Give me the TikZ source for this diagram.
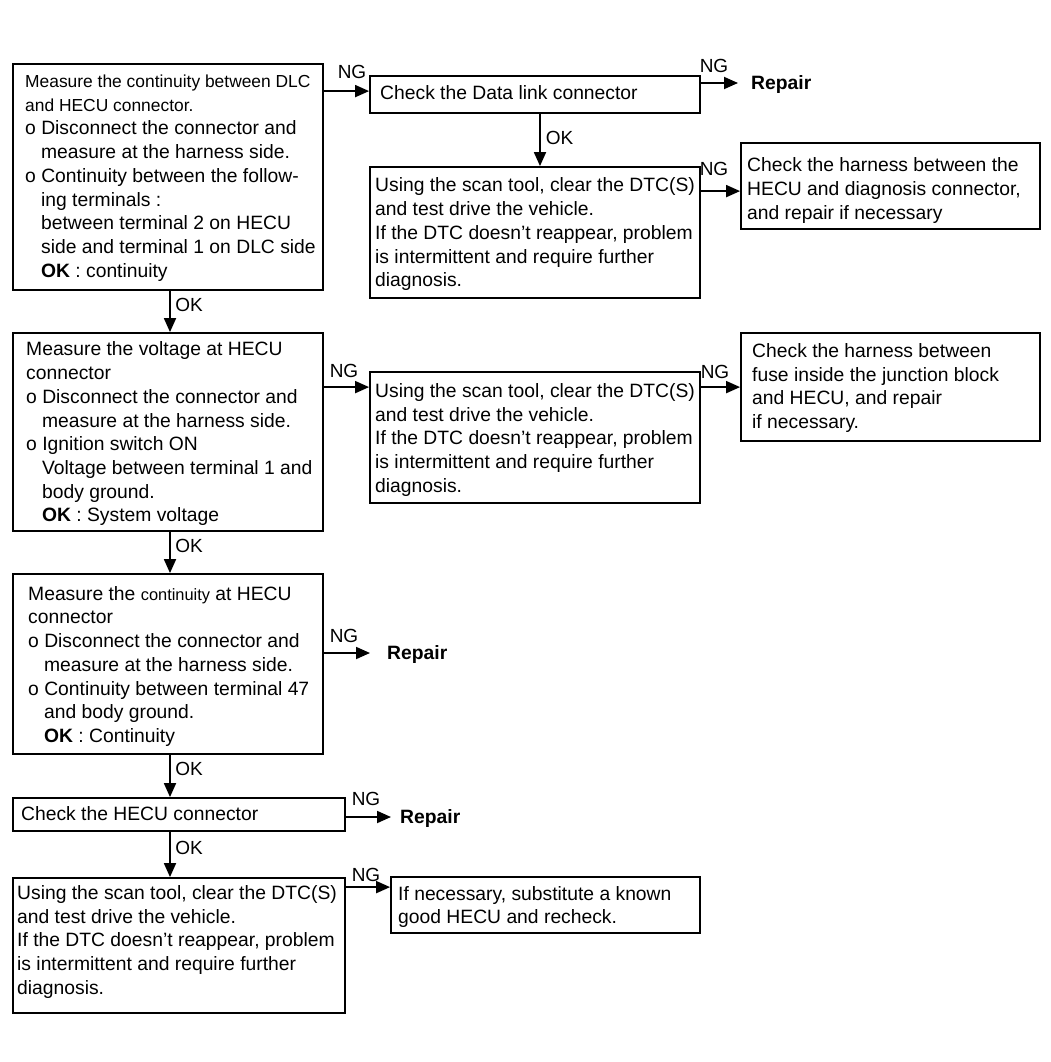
\documentclass[tikz,border=0pt]{standalone}
\usepackage{fontspec}
\setmainfont{Liberation Sans}
\usetikzlibrary{arrows.meta,calc}
\newcommand{\ind}{\hspace*{15.9pt}}
\newcommand{\stt}{\rule{0pt}{14pt}}
\newcommand{\smf}{\fontsize{17.4}{23.7}\selectfont}
\begin{document}
\begin{tikzpicture}[x=1pt,y=-1pt,
  box/.style={draw, line width=1.8pt, inner sep=0pt, rectangle},
  txt/.style={anchor=north west, inner sep=0pt, align=left, font=\fontsize{19.3}{23.7}\selectfont},
  lbl/.style={anchor=base, inner sep=0pt, font=\fontsize{19}{23.7}\selectfont},
  rep/.style={anchor=west, inner ysep=0pt, text height=13.8pt, text depth=0pt, font=\fontsize{19.3}{23.7}\selectfont\bfseries},
  arr/.style={line width=1.8pt, -{Triangle[length=14pt,width=12pt]}}
]
\useasboundingbox (0,0) rectangle (1050,1062);

% boxes
\node[box, minimum width=310pt, minimum height=226pt] (b1) at (168,177) {};
\node[box, minimum width=330pt, minimum height=37pt] (b2) at (535,94.5) {};
\node[box, minimum width=330pt, minimum height=131pt] (b3) at (535,232.5) {};
\node[box, minimum width=299pt, minimum height=86pt] (b4) at (890.5,186) {};
\node[box, minimum width=310pt, minimum height=198pt] (b5) at (168,432) {};
\node[box, minimum width=330pt, minimum height=131pt] (b6) at (535,437.5) {};
\node[box, minimum width=299pt, minimum height=108pt] (b7) at (890.5,387) {};
\node[box, minimum width=310pt, minimum height=180pt] (b8) at (168,664) {};
\node[box, minimum width=332pt, minimum height=33pt] (b9) at (179,814.5) {};
\node[box, minimum width=332pt, minimum height=135pt] (b10) at (179,945.5) {};
\node[box, minimum width=309pt, minimum height=56pt] (b11) at (545.5,905) {};

% texts
\node[txt] (t1) at (25,73.3) {\stt{\smf Measure the continuity between DLC}\\
{\smf and HECU connector.}\\
o Disconnect the connector and\\
\ind measure at the harness side.\\
o Continuity between the follow-\\
\ind ing terminals :\\
\ind between terminal 2 on HECU\\
\ind side and terminal 1 on DLC side\\
\ind \textbf{OK} : continuity};
\node[txt] (t2) at (380,85) {\stt Check the Data link connector};
\node[txt] (t3) at (375,177.7) {\stt Using the scan tool, clear the DTC(S)\\
and test drive the vehicle.\\
If the DTC doesn't reappear, problem\\
is intermittent and require further\\
diagnosis.};
\node[txt] (t4) at (747,157.7) {\stt Check the harness between the\\
HECU and diagnosis connector,\\
and repair if necessary};
\node[txt] (t5) at (26,341.7) {\stt Measure the voltage at HECU\\
connector\\
o Disconnect the connector and\\
\ind measure at the harness side.\\
o Ignition switch ON\\
\ind Voltage between terminal 1 and\\
\ind body ground.\\
\ind \textbf{OK} : System voltage};
\node[txt] (t6) at (375,383.3) {\stt Using the scan tool, clear the DTC(S)\\
and test drive the vehicle.\\
If the DTC doesn't reappear, problem\\
is intermittent and require further\\
diagnosis.};
\node[txt] (t7) at (752,343.3) {\stt Check the harness between\\
fuse inside the junction block\\
and HECU, and repair\\
if necessary.};
\node[txt] (t8) at (28,586) {\stt Measure the {\fontsize{16.4}{23.7}\selectfont continuity} at HECU\\
connector\\
o Disconnect the connector and\\
\ind measure at the harness side.\\
o Continuity between terminal 47\\
\ind and body ground.\\
\ind \textbf{OK} : Continuity};
\node[txt] (t9) at (21,806.7) {\stt Check the HECU connector};
\node[txt] (t10) at (17,885.3) {\stt Using the scan tool, clear the DTC(S)\\
and test drive the vehicle.\\
If the DTC doesn't reappear, problem\\
is intermittent and require further\\
diagnosis.};
\node[txt] (t11) at (398,886) {\stt If necessary, substitute a known\\
good HECU and recheck.};

% repair nodes
\node[rep, inner xsep=13pt] (r1) at (738,83) {Repair};
\node[rep, inner xsep=17pt] (r2) at (370,653) {Repair};
\node[rep, inner xsep=9pt] (r3) at (391,817) {Repair};

% connectors
\coordinate (p1) at ($(b2.north west)+(0,16)$);
\draw[arr] (b1.east |- p1) -- (p1);
\draw[arr] (b2.east |- r1.west) -- (r1.west);
\coordinate (p3) at ($(b2.south)+(5,0)$);
\draw[arr] (p3) -- (p3 |- b3.north);
\coordinate (p4) at ($(b3.north east)+(0,25)$);
\draw[arr] (p4) -- (p4 -| b4.west);
\coordinate (p5) at ($(b1.south)+(2,0)$);
\draw[arr] (p5) -- (p5 |- b5.north);
\coordinate (p6) at ($(b6.north west)+(0,16)$);
\draw[arr] (b5.east |- p6) -- (p6);
\coordinate (p7) at ($(b6.north east)+(0,16)$);
\draw[arr] (p7) -- (p7 -| b7.west);
\coordinate (p8) at ($(b5.south)+(2,0)$);
\draw[arr] (p8) -- (p8 |- b8.north);
\draw[arr] (b8.east |- r2.west) -- (r2.west);
\coordinate (p10) at ($(b8.south)+(2,0)$);
\draw[arr] (p10) -- (p10 |- b9.north);
\draw[arr] (b9.east |- r3.west) -- (r3.west);
\coordinate (p12) at ($(b9.south)+(-9,0)$);
\draw[arr] (p12) -- (p12 |- b10.north);
\coordinate (p13) at ($(b11.north west)+(0,11)$);
\draw[arr] (b10.east |- p13) -- (p13);

% labels
\node[lbl] (n1) at (352,79) {NG};
\node[lbl] (n2) at (714,72.7) {NG};
\node[lbl] (o1) at (559.5,144) {OK};
\node[lbl] (n3) at (714,175) {NG};
\node[lbl] (o2) at (189,311.7) {OK};
\node[lbl] (n4) at (344,377.3) {NG};
\node[lbl] (n5) at (715,378.3) {NG};
\node[lbl] (o3) at (189,552.7) {OK};
\node[lbl] (n6) at (344,642.7) {NG};
\node[lbl] (o4) at (189,775.7) {OK};
\node[lbl] (n7) at (366,805) {NG};
\node[lbl] (o5) at (189,854) {OK};
\node[lbl] (n8) at (366,881.7) {NG};
\end{tikzpicture}
\end{document}
